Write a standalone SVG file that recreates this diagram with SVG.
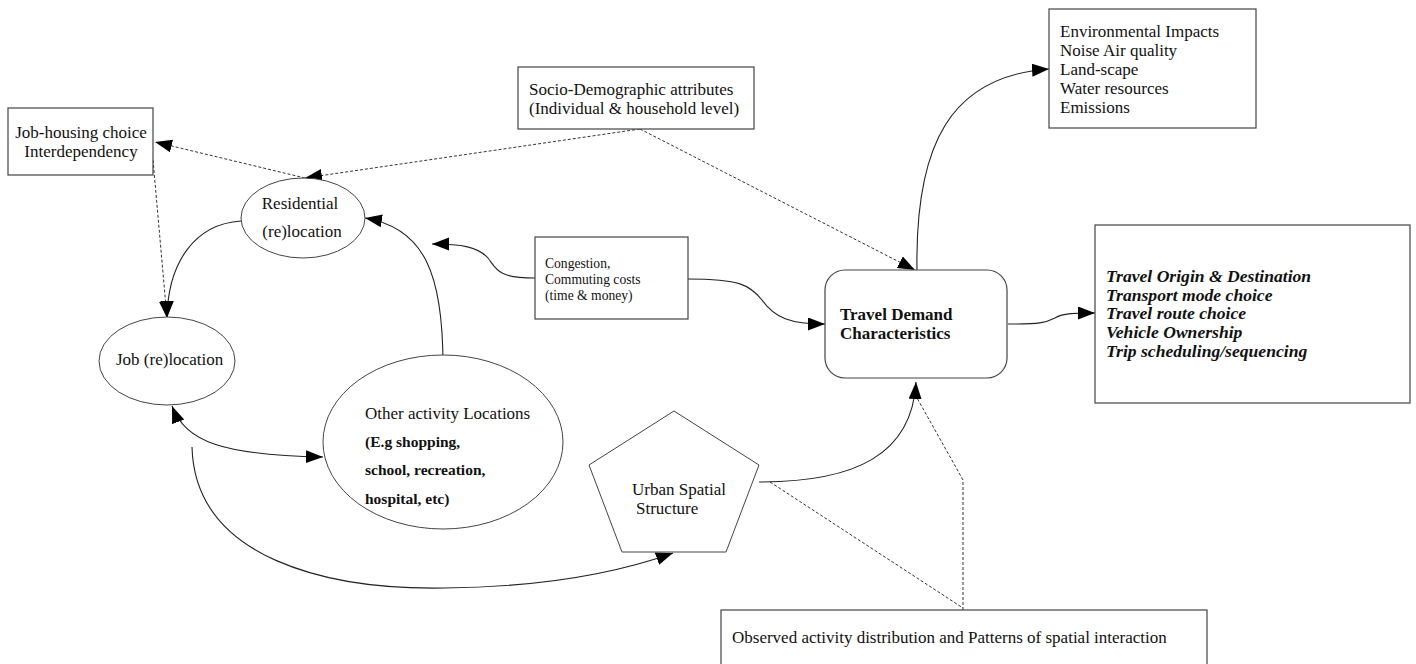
<svg xmlns="http://www.w3.org/2000/svg" width="1416" height="664" viewBox="0 0 1416 664">
  <defs>
    <style>
      .box { fill: #ffffff; stroke: #444; stroke-width: 1.2; }
      .shape { fill: #ffffff; stroke: #444; stroke-width: 1; }
      .t { font-family: "Liberation Serif", "DejaVu Serif", serif; font-size: 17px; fill: #111; }
      .sm { font-size: 13.6px; }
      .b { font-weight: bold; }
      .bi { font-weight: bold; font-style: italic; font-size: 17.6px; }
      .ex { font-size: 15.5px; }
      .solid { fill: none; stroke: #222; stroke-width: 1.1; }
      .dash { fill: none; stroke: #333; stroke-width: 1; stroke-dasharray: 3 2; }
    </style>
    <marker id="arrow" markerUnits="userSpaceOnUse" markerWidth="18" markerHeight="14" refX="17" refY="6.5" orient="auto-start-reverse">
      <path d="M0,0 L17,6.5 L0,13 z" fill="#000"/>
    </marker>
  </defs>

  <rect width="1416" height="664" fill="#ffffff"/>

  <!-- connectors -->
  <g id="connectors">
    <!-- socio-demographic influences -->
    <path class="dash" d="M640,129 L305,178" marker-end="url(#arrow)"/>
    <path class="dash" d="M640,129 L915,270" marker-end="url(#arrow)"/>
    <!-- residential to job-housing interdependency -->
    <path class="dash" d="M305,178 L155,142" marker-end="url(#arrow)"/>
    <path class="dash" d="M153,160 L167,318" marker-end="url(#arrow)"/>
    <!-- residential to job -->
    <path class="solid" d="M241,221 C195,224 168,262 167,318" marker-end="url(#arrow)"/>
    <!-- other activity to residential -->
    <path class="solid" d="M443,365 C443,275 425,228 365,218" marker-end="url(#arrow)"/>
    <!-- congestion feedbacks -->
    <path class="solid" d="M535,278 C498,278 497,270 488,258 C478,247 462,244 432,244" marker-end="url(#arrow)"/>
    <path class="solid" d="M688,279 C740,279 750,285 762,300 C775,318 790,324 825,324" marker-end="url(#arrow)"/>
    <!-- travel demand to environmental impacts -->
    <path class="solid" d="M917,270 C915,145 950,76 1049,69" marker-end="url(#arrow)"/>
    <!-- travel demand to choices -->
    <path class="solid" d="M1008,324 C1040,324 1045,323 1055,318 C1063,313 1075,313 1095,313" marker-end="url(#arrow)"/>
    <!-- job and other activity locations -->
    <path class="solid" d="M172,406 C186,442 222,455 323,457" marker-start="url(#arrow)" marker-end="url(#arrow)"/>
    <!-- job to urban spatial structure -->
    <path class="solid" d="M192,447 C195,560 330,590 445,588 C545,587 620,572 673,553" marker-end="url(#arrow)"/>
    <!-- urban spatial structure to travel demand -->
    <path class="solid" d="M759,482 C855,482 912,455 916,382" marker-end="url(#arrow)"/>
    <!-- observed patterns -->
    <path class="dash" d="M770,482 L963,608"/>
    <path class="dash" d="M963,610 L963,480 L917,398"/>
  </g>

  <g id="job-housing">
    <rect class="box" x="8" y="108" width="145" height="67"/>
    <text class="t" x="81" y="138" text-anchor="middle">Job-housing choice</text>
    <text class="t" x="81" y="157" text-anchor="middle">Interdependency</text>
  </g>

  <g id="socio-demographic">
    <rect class="box" x="518" y="67" width="236" height="62"/>
    <text class="t" x="529" y="95">Socio-Demographic attributes</text>
    <text class="t" x="529" y="114">(Individual &amp; household level)</text>
  </g>

  <g id="environmental">
    <rect class="box" x="1049" y="9" width="207" height="119"/>
    <text class="t" x="1060" y="37">Environmental Impacts</text>
    <text class="t" x="1060" y="56">Noise Air quality</text>
    <text class="t" x="1060" y="75">Land-scape</text>
    <text class="t" x="1060" y="94">Water resources</text>
    <text class="t" x="1060" y="113">Emissions</text>
  </g>

  <g id="residential">
    <ellipse class="shape" cx="303" cy="218" rx="62" ry="40"/>
    <text class="t" x="300" y="209" text-anchor="middle">Residential</text>
    <text class="t" x="302" y="237" text-anchor="middle">(re)location</text>
  </g>

  <g id="congestion">
    <rect class="box" x="535" y="237" width="153" height="82"/>
    <text class="t sm" x="545" y="268">Congestion,</text>
    <text class="t sm" x="545" y="284">Commuting costs</text>
    <text class="t sm" x="545" y="300"> (time &amp; money)</text>
  </g>

  <g id="travel-demand">
    <rect class="box" x="825" y="270" width="182" height="108" rx="20" ry="20"/>
    <text class="t b" x="840" y="320">Travel Demand</text>
    <text class="t b" x="840" y="339">Characteristics</text>
  </g>

  <g id="travel-choices">
    <rect class="box" x="1095" y="225" width="315" height="178"/>
    <text class="t bi" x="1106" y="282">Travel Origin &amp; Destination</text>
    <text class="t bi" x="1106" y="301">Transport mode choice</text>
    <text class="t bi" x="1106" y="319">Travel route choice</text>
    <text class="t bi" x="1106" y="338">Vehicle Ownership</text>
    <text class="t bi" x="1106" y="357">Trip scheduling/sequencing</text>
  </g>

  <g id="job-relocation">
    <ellipse class="shape" cx="167" cy="361" rx="68" ry="44"/>
    <text class="t" x="116" y="365">Job (re)location</text>
  </g>

  <g id="other-activity">
    <ellipse class="shape" cx="443" cy="442" rx="120" ry="87"/>
    <text class="t" x="365" y="419">Other activity Locations</text>
    <text class="t b ex" x="365" y="447"> (E.g shopping,</text>
    <text class="t b ex" x="365" y="475">school, recreation,</text>
    <text class="t b ex" x="365" y="504">hospital, etc)</text>
  </g>

  <g id="urban-spatial">
    <polygon class="shape" points="674,411 759,465 726,552 622,552 589,465"/>
    <text class="t" x="632" y="495">Urban Spatial</text>
    <text class="t" x="636" y="514">Structure</text>
  </g>

  <g id="observed">
    <rect class="box" x="721" y="610" width="486" height="60"/>
    <text class="t" x="732" y="643">Observed activity distribution and Patterns of spatial interaction</text>
  </g>
</svg>
